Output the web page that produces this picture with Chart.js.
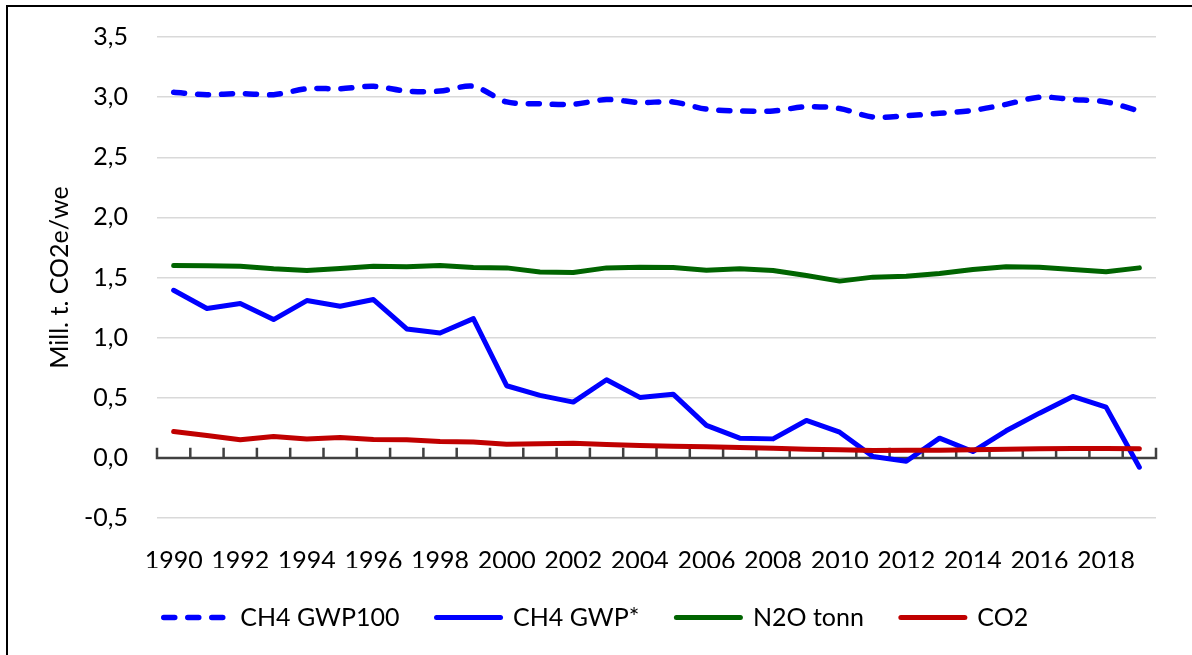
<!DOCTYPE html>
<html>
<head>
<meta charset="utf-8">
<script src="https://cdn.jsdelivr.net/npm/chart.js@4.4.1/dist/chart.umd.min.js"></script>
<style>
  html, body { margin: 0; padding: 0; background: #ffffff; overflow: hidden; }
  #frame { position: absolute; left: 6px; top: 5px; width: 2000px; height: 2000px;
           border-left: 2px solid #000; border-top: 2px solid #000; }
  #wrap { position: absolute; left: 0; top: 0; width: 1192px; height: 655px; }
</style>
</head>
<body>
<div id="frame"></div>
<div id="wrap"><canvas id="c"></canvas></div>
<script>
const years = ['1990','1991','1992','1993','1994','1995','1996','1997','1998','1999',
               '2000','2001','2002','2003','2004','2005','2006','2007','2008','2009',
               '2010','2011','2012','2013','2014','2015','2016','2017','2018','2019'];

const ch4Gwp100 = [3.04, 3.02, 3.03, 3.02, 3.07, 3.07, 3.09, 3.05, 3.05, 3.09,
                   2.96, 2.945, 2.94, 2.98, 2.955, 2.96, 2.90, 2.885, 2.885, 2.92,
                   2.905, 2.835, 2.845, 2.865, 2.89, 2.94, 3.00, 2.98, 2.96, 2.885];

const ch4GwpStar = [1.394, 1.242, 1.283, 1.15, 1.308, 1.261, 1.317, 1.072, 1.039, 1.158,
                    0.60, 0.52, 0.464, 0.65, 0.503, 0.53, 0.27, 0.164, 0.158, 0.311,
                    0.214, 0.011, -0.028, 0.164, 0.053, 0.225, 0.372, 0.511, 0.422, -0.078];

const n2oTonn = [1.60, 1.597, 1.594, 1.572, 1.558, 1.575, 1.594, 1.589, 1.60, 1.583,
                 1.58, 1.545, 1.542, 1.58, 1.586, 1.583, 1.561, 1.572, 1.558, 1.517,
                 1.47, 1.503, 1.51, 1.533, 1.567, 1.589, 1.586, 1.567, 1.547, 1.58];

const co2 = [0.219, 0.186, 0.15, 0.178, 0.156, 0.169, 0.153, 0.15, 0.136, 0.133,
             0.114, 0.117, 0.122, 0.111, 0.103, 0.097, 0.092, 0.086, 0.081, 0.072,
             0.067, 0.061, 0.064, 0.064, 0.068, 0.072, 0.075, 0.078, 0.078, 0.075];

const seriesNames = ['CH4 GWP100', 'CH4 GWP*', 'N2O tonn', 'CO2'];
const yTicks = { min: -0.5, max: 3.5, step: 0.5 };
const yTitle = 'Mill. t. CO2e/we';

const FONT = 'Lato, "Open Sans", sans-serif';

const zeroAxis = {
  id: 'zeroAxis',
  beforeDatasetsDraw(chart) {
    const { ctx, chartArea, scales } = chart;
    const xs = scales.x, ys = scales.y;
    const y0 = ys.getPixelForValue(0);
    ctx.save();
    ctx.strokeStyle = '#404040';
    ctx.lineWidth = 2.5;
    ctx.lineCap = 'square';
    ctx.beginPath();
    ctx.moveTo(chartArea.left, y0);
    ctx.lineTo(chartArea.right, y0);
    for (let k = 0; k <= years.length; k++) {
      const px = xs.getPixelForValue(k - 0.5);
      ctx.moveTo(px, y0);
      ctx.lineTo(px, y0 - 9);
    }
    ctx.stroke();
    ctx.restore();
  }
};

new Chart(document.getElementById('c'), {
  type: 'line',
  data: {
    labels: years,
    datasets: [
      { label: seriesNames[0], data: ch4Gwp100, borderColor: '#0000FF', backgroundColor: '#0000FF',
        borderWidth: 5.5, borderDash: [11, 13], borderCapStyle: 'round', tension: 0.3, order: 3 },
      { label: seriesNames[1], data: ch4GwpStar, borderColor: '#0000FF', backgroundColor: '#0000FF',
        borderWidth: 5, borderCapStyle: 'round', tension: 0, order: 2 },
      { label: seriesNames[2], data: n2oTonn, borderColor: '#006400', backgroundColor: '#006400',
        borderWidth: 5, borderCapStyle: 'round', tension: 0, order: 1 },
      { label: seriesNames[3], data: co2, borderColor: '#C00000', backgroundColor: '#C00000',
        borderWidth: 5, borderCapStyle: 'round', tension: 0, order: 0 }
    ]
  },
  options: {
    responsive: true,
    maintainAspectRatio: false,
    animation: false,
    elements: { point: { radius: 0, hoverRadius: 0 }, line: { borderJoinStyle: 'round' } },
    layout: { padding: { top: 37, right: 36, bottom: 15, left: 36 } },
    plugins: {
      tooltip: { enabled: false },
      legend: {
        position: 'bottom',
        labels: {
          usePointStyle: true,
          pointStyle: 'line',
          pointStyleWidth: 64,
          padding: 37,
          color: '#000',
          font: { family: FONT, size: 25 },
          sort: (a, b) => a.datasetIndex - b.datasetIndex,
          generateLabels: (chart) => {
            const items = Chart.defaults.plugins.legend.labels.generateLabels(chart);
            items.forEach((it) => {
              const ds = chart.data.datasets[it.datasetIndex];
              it.lineDash = ds.borderDash || [];
              it.lineCap = 'round';
              it.lineWidth = ds.borderWidth;
              it.strokeStyle = ds.borderColor;
              it.pointStyle = 'line';
            });
            return items;
          }
        }
      }
    },
    scales: {
      x: {
        offset: true,
        grid: { display: false },
        border: { display: false },
        ticks: {
          autoSkip: false, maxRotation: 0, minRotation: 0, padding: 20,
          color: '#000', font: { family: FONT, size: 25 },
          callback: function (value, index) { return index % 2 === 0 ? years[index] : ''; }
        },
        afterFit: (s) => { s.height = 50; }
      },
      y: {
        min: yTicks.min, max: yTicks.max,
        grid: { color: '#d9d9d9', lineWidth: 1.5, drawTicks: true, tickLength: 29,
                tickColor: 'rgba(0,0,0,0)' },
        border: { display: false },
        ticks: {
          stepSize: yTicks.step, padding: 0, color: '#000',
          font: { family: FONT, size: 25 },
          callback: (v) => v.toFixed(1).replace('.', ',')
        },
        title: { display: true, text: yTitle, color: '#000',
                 font: { family: FONT, size: 25 }, padding: { top: 9, bottom: 0 } },
        afterFit: (s) => { s.width = 121; }
      }
    }
  },
  plugins: [zeroAxis]
});
</script>
</body>
</html>
